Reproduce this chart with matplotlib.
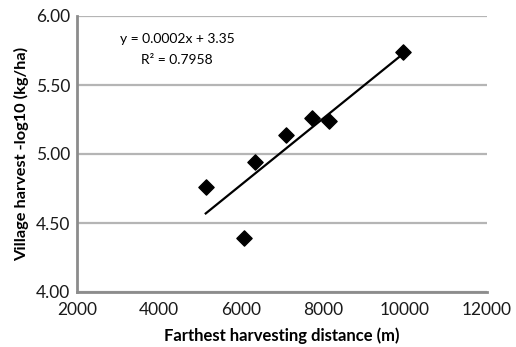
import numpy as np
import matplotlib.pyplot as plt

# farthest harvesting distance (m) and village harvest (-log10 kg/ha)
distance = [5140, 6080, 6340, 7090, 7720, 8150, 9960]
harvest = [4.76, 4.39, 4.94, 5.14, 5.26, 5.24, 5.74]
x_ticks = [2000, 4000, 6000, 8000, 10000, 12000]
y_ticks = [4.00, 4.50, 5.00, 5.50, 6.00]

plt.rcParams['font.family'] = ['Lato', 'DejaVu Sans']

fig = plt.figure(figsize=(5.16, 3.47), dpi=100)
ax = fig.add_axes([77 / 516, 1 - 292 / 347, (487 - 77) / 516, (292 - 16) / 347])

x = np.asarray(distance, dtype=float)
y = np.asarray(harvest, dtype=float)
w = np.polyfit(x, y, 1)
s = np.linspace(x.min(), x.max(), 50)
ax.plot(s, w[1] + w[0] * s, color='black', linewidth=1.6, zorder=3)
ax.scatter(x, y, marker='D', s=60, color='black', zorder=4)

ax.set_xlim(2000, 12000)
ax.set_ylim(4.0, 6.0)
ax.set_xticks(x_ticks)
ax.set_yticks(y_ticks)
ax.set_yticklabels(['%.2f' % v for v in y_ticks])
ax.tick_params(length=0, labelsize=12.5, colors='#1a1a1a')
ax.tick_params(axis='x', pad=7)
ax.tick_params(axis='y', pad=5)
ax.grid(axis='y', color='#b5b5b5', linewidth=1.6)
ax.set_axisbelow(True)
for side in ['top', 'right']:
    ax.spines[side].set_visible(False)
for side in ['left', 'bottom']:
    ax.spines[side].set_color('#8c8c8c')
    ax.spines[side].set_linewidth(2)

ax.set_xlabel('Farthest harvesting distance (m)', fontsize=12, fontweight='bold', labelpad=7)
ax.set_ylabel('Village harvest -log10 (kg/ha)', fontsize=11.8, fontweight='bold', labelpad=5)

ax.text(177 / 516, 1 - 39 / 347, 'y = 0.0002x + 3.35', transform=fig.transFigure,
        ha='center', va='center', fontsize=10)
ax.text(177 / 516, 1 - 60 / 347, 'R² = 0.7958', transform=fig.transFigure,
        ha='center', va='center', fontsize=10)

fig.savefig('out.png', dpi=100)
